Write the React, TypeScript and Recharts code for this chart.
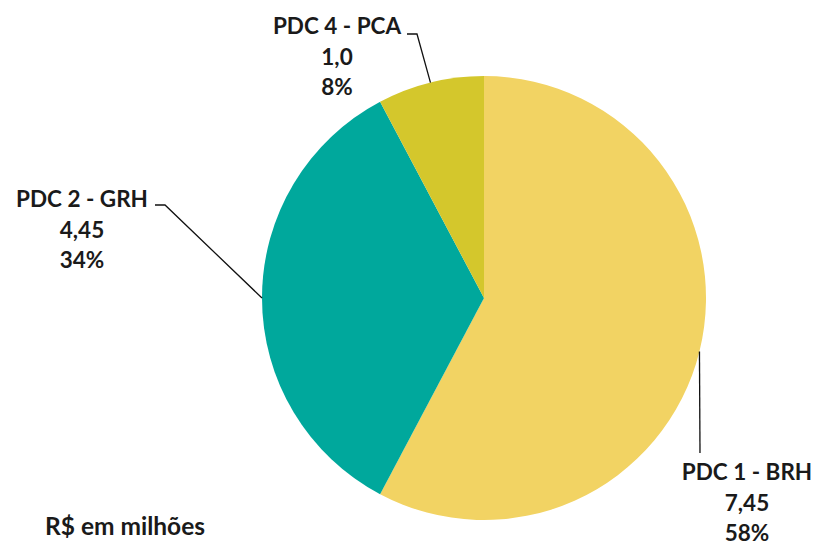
import { PieChart, Pie, Cell } from 'recharts';

const names = ['PDC 1 - BRH', 'PDC 2 - GRH', 'PDC 4 - PCA'];
const values = [7.45, 4.45, 1.0];
const valueLabels = ['7,45', '4,45', '1,0'];
const pctLabels = ['58%', '34%', '8%'];
const COLORS = ['#F2D363', '#00A89C', '#D4C72C'];

const data = names.map((name, i) => ({ name, value: values[i] }));

// label layout: elbow point, end of leader, text centre x, first baseline
const LABEL_POS = [
  { elbow: [700, 453], end: [700, 453], tx: 747, ty: 480 },
  { elbow: [165, 205], end: [155, 205], tx: 82, ty: 207 },
  { elbow: [417, 34], end: [407, 34], tx: 337, ty: 34 },
];

const FONT = 'Lato, "Open Sans", sans-serif';
const RAD = Math.PI / 180;

function renderLabel(props: any) {
  const { cx, cy, outerRadius, midAngle, index } = props;
  const sx = cx + outerRadius * Math.cos(-midAngle * RAD);
  const sy = cy + outerRadius * Math.sin(-midAngle * RAD);
  const p = LABEL_POS[index];
  const lines = [names[index], valueLabels[index], pctLabels[index]];
  return (
    <g key={index}>
      <polyline
        points={`${sx},${sy} ${p.elbow[0]},${p.elbow[1]} ${p.end[0]},${p.end[1]}`}
        fill="none"
        stroke="#111"
        strokeWidth={1.3}
      />
      {lines.map((t, j) => (
        <text
          key={j}
          x={p.tx}
          y={p.ty + j * 30.5}
          textAnchor="middle"
          fontFamily={FONT}
          fontWeight={700}
          fontSize={22.5}
          fill="#1a1a1a"
        >
          {t}
        </text>
      ))}
    </g>
  );
}

export default function App() {
  return (
    <div style={{ position: 'absolute', left: 0, top: 0, width: 817, height: 545, background: '#fff' }}>
      <PieChart width={817} height={545} margin={{ top: 0, right: 0, bottom: 0, left: 0 }}>
        <Pie
          data={data}
          dataKey="value"
          nameKey="name"
          cx={484}
          cy={298}
          outerRadius={222}
          startAngle={90}
          endAngle={-270}
          stroke="none"
          label={renderLabel}
          labelLine={false}
          isAnimationActive={false}
        >
          {data.map((_, i) => (
            <Cell key={i} fill={COLORS[i]} />
          ))}
        </Pie>
        <text x={45} y={535} fontFamily={FONT} fontWeight={700} fontSize={24.5} fill="#1a1a1a">
          R$ em milhões
        </text>
      </PieChart>
    </div>
  );
}
